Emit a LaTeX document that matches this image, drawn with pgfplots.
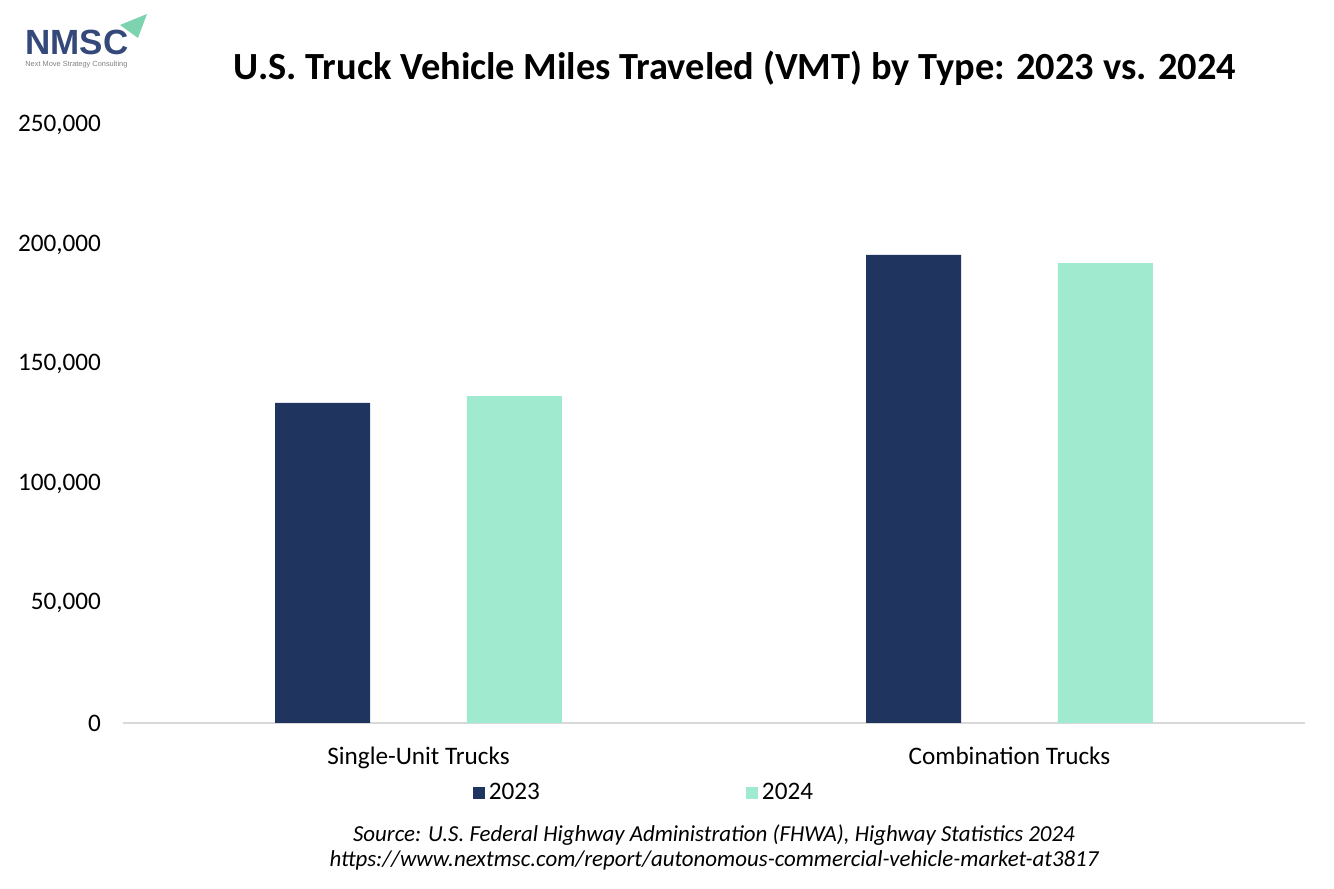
\documentclass[border=0pt]{standalone}
\usepackage{pgfplots}
\pgfplotsset{compat=1.18}
\usepackage{fontspec}
\setmainfont{Carlito}
\newfontfamily\logofont{Liberation Sans}
\definecolor{navy}{HTML}{1F3560}
\definecolor{mint}{HTML}{A0EAD0}
\definecolor{logoblue}{HTML}{34497A}
\definecolor{logogreen}{HTML}{7DD3B0}
\definecolor{axisgray}{HTML}{D9D9D9}
\begin{document}
\begin{tikzpicture}
\useasboundingbox (0,0) rectangle (667pt,444.5pt);
% logo
\fill[logogreen] (60pt,432pt) -- (73.5pt,437.5pt) -- (69pt,425.5pt) -- cycle;
\node[anchor=base west,inner sep=0pt,text=logoblue] at (12.5pt,417pt) {\logofont\bfseries\fontsize{17.5}{18}\selectfont NMSC};
\node[anchor=west,inner sep=0pt,text=gray] at (12.5pt,412.3pt) {\logofont\fontsize{3.7}{4}\selectfont Next Move Strategy Consulting};
% title
\node[font=\bfseries\fontsize{19.2}{21}\selectfont] at (367.5pt,410.5pt) {U.S. Truck Vehicle Miles Traveled (VMT) by Type: 2023 vs. 2024};
\begin{axis}[
  at={(61.5pt,83pt)}, anchor=south west,
  scale only axis, width=591pt, height=299pt,
  xmin=-0.5, xmax=1.5, ymin=0, ymax=250000,
  xtick={0,1}, xticklabels={Single-Unit Trucks,Combination Trucks},
  ytick={0,50000,100000,150000,200000,250000},
  scaled y ticks=false,
  /pgf/number format/.cd, fixed, 1000 sep={,}, assume math mode=true, /pgfplots/.cd,
  major tick length=0pt,
  axis x line*=bottom, axis y line*=left,
  x axis line style={draw=axisgray, line width=1pt, -},
  y axis line style={draw=none},
  ticklabel style={font=\fontsize{12.6}{14}\selectfont, text=black},
  xticklabel style={yshift=-8.5pt},
  yticklabel style={xshift=-7.5pt},
  legend columns=2,
  legend style={draw=none, at={(0.4416,-0.1171)}, anchor=center,
    font=\fontsize{12.6}{14}\selectfont,
    /tikz/every even column/.append style={column sep=101pt}},
  legend image code/.code={\fill[#1] (0pt,-3pt) rectangle (6pt,3pt);},
]
\addplot[ybar, bar width=47.5pt, bar shift=-47.9pt, fill=navy, draw=none] coordinates {(0,133800) (1,195700)};
\addlegendentry{2023}
\addplot[ybar, bar width=47.5pt, bar shift=47.9pt, fill=mint, draw=none] coordinates {(0,136700) (1,192300)};
\addlegendentry{2024}
\end{axis}
\node[font=\itshape\fontsize{11.45}{13}\selectfont] at (357pt,27pt) {Source: U.S. Federal Highway Administration (FHWA), Highway Statistics 2024};
\node[font=\itshape\fontsize{11.45}{13}\selectfont] at (357pt,14.5pt) {https://www.nextmsc.com/report/autonomous-commercial-vehicle-market-at3817};
\end{tikzpicture}
\end{document}
